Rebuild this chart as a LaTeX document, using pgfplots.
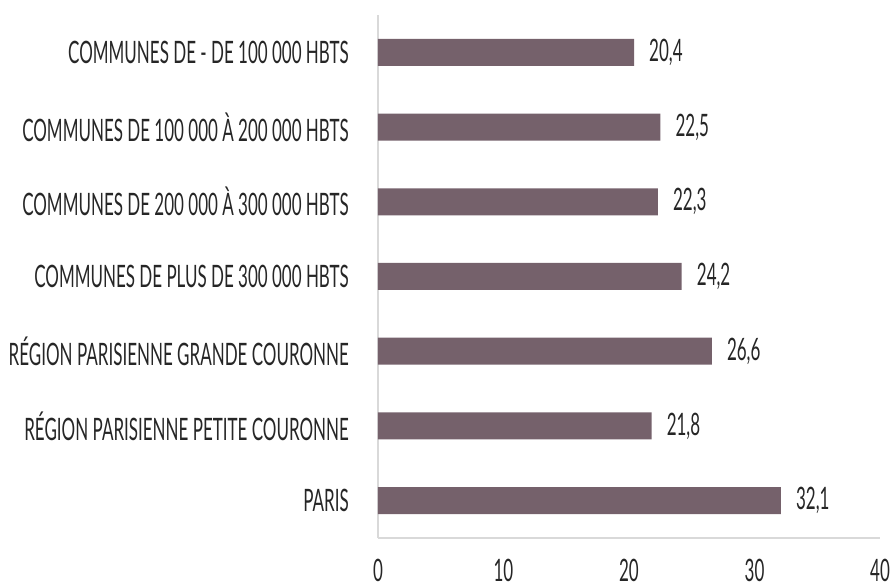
\documentclass[border=0pt]{standalone}
\usepackage{fontspec}
\setmainfont{Lato}[FakeStretch=0.55]
\usepackage{pgfplots}
\pgfplotsset{compat=1.18}
\definecolor{barcol}{HTML}{75616B}
\definecolor{axcol}{HTML}{D9D9D9}
\begin{document}
\begin{tikzpicture}
\begin{axis}[
  at={(0,0)}, anchor=south west,
  scale only axis,
  width=502bp, height=523bp,
  xbar, bar width=27bp,
  xmin=0, xmax=40, ymin=-0.5, ymax=6.5,
  xtick={0,10,20,30,40},
  ytick={0,1,2,3,4,5,6},
  yticklabels={PARIS,RÉGION PARISIENNE PETITE COURONNE,RÉGION PARISIENNE GRANDE COURONNE,COMMUNES DE PLUS DE 300 000 HBTS,COMMUNES DE 200 000 À 300 000 HBTS,COMMUNES DE 100 000 À 200 000 HBTS,COMMUNES DE - DE 100 000 HBTS},
  axis x line*=bottom, axis y line*=left,
  axis line style={draw=axcol, line width=1.2bp, -},
  major tick length=0pt,
  tick style={draw=none},
  /pgf/number format/assume math mode=true,
  every tick label/.append style={font=\fontsize{31}{33}\selectfont, text=black!85, inner sep=0pt},
  yticklabel style={anchor=east, xshift=-29bp},
  xticklabel style={anchor=center, yshift=-32bp},
  nodes near coords={\pgfplotspointmeta},
  nodes near coords style={anchor=west, xshift=15bp, font=\fontsize{31}{33}\selectfont, text=black!85, inner sep=0pt},
  point meta=explicit symbolic,
  clip=false,
]
\addplot[fill=barcol, draw=none, bar shift=0pt] coordinates {
  (32.1,0) [32,1]
  (21.8,1) [21,8]
  (26.6,2) [26,6]
  (24.2,3) [24,2]
  (22.3,4) [22,3]
  (22.5,5) [22,5]
  (20.4,6) [20,4]
};
\end{axis}
\pgfresetboundingbox
\path[use as bounding box] (-378bp,-49bp) rectangle (517bp,538bp);
\end{tikzpicture}
\end{document}
